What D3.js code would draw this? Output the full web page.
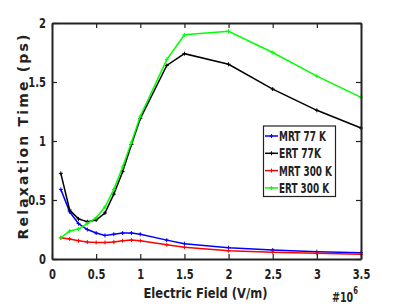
<!DOCTYPE html>
<html><head><meta charset="utf-8">
<script src="https://cdn.jsdelivr.net/npm/d3@7"></script>
<style>body{margin:0;background:#fff}svg{display:block}</style>
</head><body><svg id="c" width="399" height="307"></svg>
<script>
const fieldX = [0.1,0.2,0.3,0.4,0.5,0.6,0.7,0.8,0.9,1.0,1.3,1.5,2.0,2.5,3.0,3.5];
const mrt77  = [0.59,0.40,0.30,0.25,0.22,0.20,0.21,0.22,0.22,0.21,0.16,0.13,0.096,0.076,0.062,0.054];
const ert77  = [0.726,0.415,0.34,0.316,0.33,0.39,0.55,0.74,0.97,1.19,1.64,1.74,1.65,1.44,1.26,1.11];
const mrt300 = [0.18,0.17,0.155,0.144,0.14,0.14,0.145,0.155,0.16,0.155,0.12,0.10,0.07,0.057,0.048,0.04];
const ert300 = [0.18,0.237,0.254,0.30,0.35,0.44,0.59,0.78,0.99,1.21,1.69,1.90,1.93,1.75,1.55,1.37];
const seriesNames = ["MRT 77 K","ERT 77K","MRT 300 K","ERT 300 K"];
const seriesColors = ["#0000ff","#000000","#ff0000","#00ff00"];
const xTicks = [0,0.5,1,1.5,2,2.5,3,3.5];
const yTicks = [0,0.5,1,1.5,2];

const svg = d3.select("#c");
const L=52,R=361,T=23,B=259;
const x = d3.scaleLinear().domain([0,3.5]).range([L,R]);
const y = d3.scaleLinear().domain([0,2]).range([B,T]);
const font = "'DejaVu Sans',sans-serif";
const SX = 0.74;

const all = [mrt77, ert77, mrt300, ert300];
[0,1,2,3].forEach(i=>{
  const data = fieldX.map((v,j)=>[v, all[i][j]]);
  svg.append("path").datum(data)
    .attr("d", d3.line().x(d=>x(d[0])).y(d=>y(d[1])))
    .attr("fill","none").attr("stroke",seriesColors[i]).attr("stroke-width",1.5);
  svg.append("g").selectAll("path").data(data).join("path")
    .attr("d", d=>`M${x(d[0])-2},${y(d[1])}h4M${x(d[0])},${y(d[1])-2}v4`)
    .attr("stroke",seriesColors[i]).attr("stroke-width",1);
});

const axB = svg.append("g").attr("transform",`translate(0,${B})`).call(d3.axisBottom(x).tickValues(xTicks).tickSizeInner(-5).tickSizeOuter(0).tickPadding(8).tickFormat(d=>d));
const axT = svg.append("g").attr("transform",`translate(0,${T})`).call(d3.axisTop(x).tickValues(xTicks).tickSizeInner(-5).tickSizeOuter(0).tickFormat(""));
const axL = svg.append("g").attr("transform",`translate(${L},0)`).call(d3.axisLeft(y).tickValues(yTicks).tickSizeInner(-5).tickSizeOuter(0).tickPadding(8).tickFormat(d=>d));
const axR = svg.append("g").attr("transform",`translate(${R},0)`).call(d3.axisRight(y).tickValues(yTicks).tickSizeInner(-5).tickSizeOuter(0).tickFormat(""));
[axB,axT,axL,axR].forEach(a=>{
  a.select(".domain").attr("stroke","#222").attr("stroke-width",2);
  a.selectAll(".tick line").attr("stroke","#222").attr("stroke-width",1.2);
  a.selectAll("text").attr("font-family",font).attr("font-weight","bold").attr("font-size",13.5).attr("fill","#222");
});
axB.selectAll("text").attr("dy","0.71em").attr("y",10).attr("x",0).attr("transform",`scale(${SX},1)`);
axL.selectAll("text").attr("x",-6/SX).attr("dy","0.35em").attr("transform",`scale(${SX},1)`);

svg.append("text").attr("x",205.5).attr("y",298).attr("text-anchor","middle")
  .attr("font-family",font).attr("font-weight","bold").attr("font-size",13.5).attr("fill","#222")
  .attr("textLength",124).attr("lengthAdjust","spacingAndGlyphs")
  .text("Electric Field (V/m)");
const sci = svg.append("g").attr("transform",`translate(332,302) scale(0.68,1)`);
const st = sci.append("text").attr("font-family",font).attr("font-weight","bold").attr("font-size",14).attr("fill","#222");
st.append("tspan").text("#10");
st.append("tspan").attr("dy",-8).attr("font-size",10).text("6");
svg.append("text").attr("transform","translate(28,137) rotate(-90)").attr("text-anchor","middle")
  .attr("font-family",font).attr("font-weight","bold").attr("font-size",14)
  .attr("textLength",205).attr("lengthAdjust","spacing").attr("fill","#222").text("Relaxation Time (ps)");

const legendLens = [47,42,53,50];
const lg = svg.append("g");
lg.append("rect").attr("x",263.5).attr("y",126).attr("width",72).attr("height",70.5)
  .attr("fill","#fff").attr("stroke","#222").attr("stroke-width",1.2);
seriesNames.forEach((n,i)=>{
  const yy = 136 + i*17.3;
  lg.append("line").attr("x1",265).attr("x2",278).attr("y1",yy).attr("y2",yy)
    .attr("stroke",seriesColors[i]).attr("stroke-width",1.5);
  lg.append("path").attr("d",`M269.5,${yy}h4M271.5,${yy-2}v4`).attr("stroke",seriesColors[i]);
  lg.append("text").attr("x",279).attr("y",yy).attr("dy","0.36em")
    .attr("font-family",font).attr("font-weight","bold").attr("font-size",14).attr("fill","#222")
    .attr("textLength",legendLens[i]).attr("lengthAdjust","spacingAndGlyphs").text(n);
});
</script></body></html>
